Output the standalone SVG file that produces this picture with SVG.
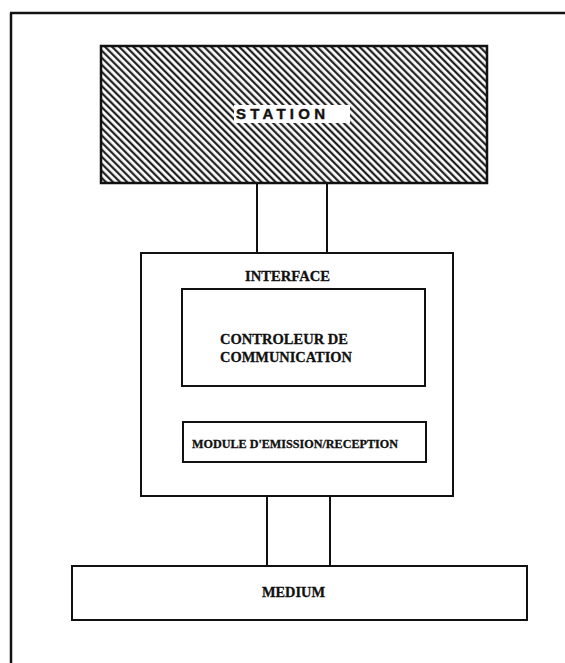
<svg xmlns="http://www.w3.org/2000/svg" width="565" height="663" viewBox="0 0 565 663">
<style>
.box{fill:#fff;stroke:#111;stroke-width:2}
.con line{stroke:#111;stroke-width:2}
.lbl{font-family:"Liberation Serif","Times New Roman",serif;font-weight:bold;fill:#111;stroke:#111;stroke-width:0.3}
</style>
<defs>
<pattern id="hatch" patternUnits="userSpaceOnUse" width="5" height="10" patternTransform="rotate(-45)">
<rect width="5" height="10" fill="#fff"/>
<line x1="1.2" y1="0" x2="1.2" y2="10" stroke="#111" stroke-width="2.1"/>
</pattern>
</defs>
<rect width="565" height="663" fill="#fff"/>
<g id="frame" fill="none" stroke="#111" stroke-width="2.5">
<line x1="10" y1="13" x2="565" y2="13"/>
<line x1="11" y1="13" x2="11" y2="663"/>
</g>
<g id="connectors" class="con">
<line x1="257" y1="184" x2="257" y2="253"/>
<line x1="327" y1="184" x2="327" y2="253"/>
<line x1="280" y1="386" x2="280" y2="422"/>
<line x1="315" y1="386" x2="315" y2="422"/>
<line x1="267" y1="496" x2="267" y2="566"/>
<line x1="330" y1="496" x2="330" y2="566"/>
</g>
<g id="station">
<rect x="101" y="46" width="386" height="137" fill="url(#hatch)" stroke="#111" stroke-width="2.5"/>
<rect x="234" y="105" width="116" height="18" fill="#fff"/>
<text x="236" y="119" font-family="Liberation Sans, Arial, sans-serif" font-weight="bold" font-size="15" fill="#111" stroke="#111" stroke-width="0.4" textLength="89" lengthAdjust="spacing">STATION</text>
</g>
<g id="interface">
<rect class="box" x="141" y="253" width="312" height="243"/>
<text class="lbl" x="245" y="281" font-size="15" textLength="85" lengthAdjust="spacingAndGlyphs">INTERFACE</text>
</g>
<g id="controleur">
<rect class="box" x="182" y="289" width="243" height="97"/>
<text class="lbl" x="220" y="344" font-size="15.5" textLength="128" lengthAdjust="spacingAndGlyphs">CONTROLEUR DE</text>
<text class="lbl" x="220" y="362" font-size="15.5" textLength="132" lengthAdjust="spacingAndGlyphs">COMMUNICATION</text>
</g>
<g id="module">
<rect class="box" x="183" y="422" width="243" height="40"/>
<text class="lbl" x="192" y="448" font-size="11.5" textLength="206" lengthAdjust="spacingAndGlyphs">MODULE D'EMISSION/RECEPTION</text>
</g>
<g id="medium">
<rect class="box" x="72" y="566" width="455" height="54"/>
<text class="lbl" x="262" y="597" font-size="14.5" textLength="63" lengthAdjust="spacingAndGlyphs">MEDIUM</text>
</g>
</svg>
